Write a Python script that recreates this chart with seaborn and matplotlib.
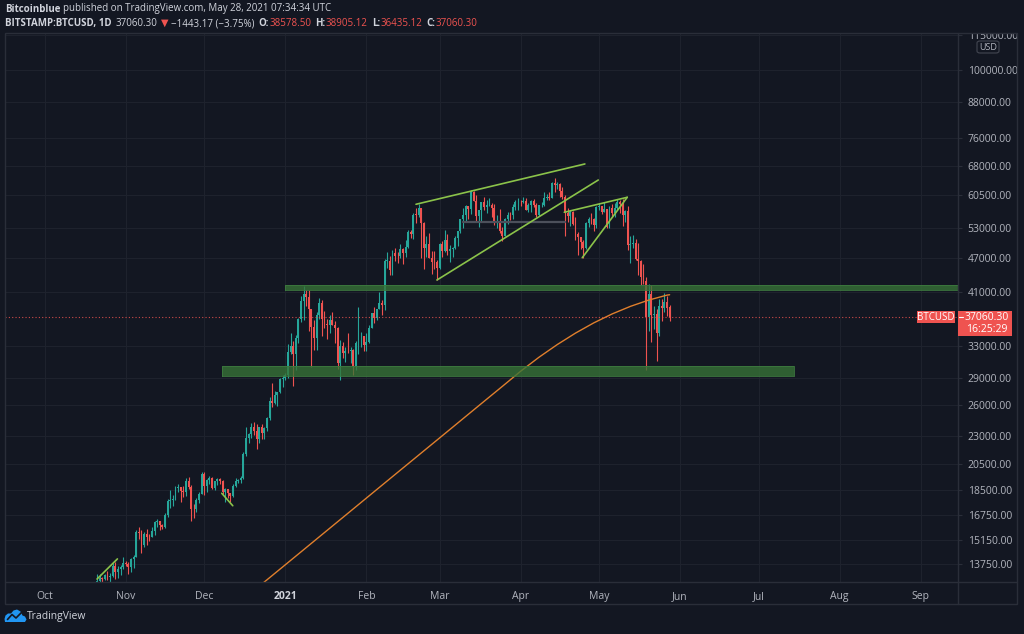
import numpy as np
import pandas as pd
import matplotlib
matplotlib.use("Agg")
import matplotlib.pyplot as plt
import matplotlib.dates as mdates
from matplotlib.patches import Rectangle, Polygon, FancyBboxPatch
from matplotlib.lines import Line2D
from matplotlib.ticker import NullLocator, NullFormatter
import seaborn as sns

# ---------------- data (daily BTCUSD candles) ----------------
start_date = "2020-10-21"

opens = [
    11920, 12810, 12990, 12940, 13130, 13040, 13070, 13650, 13280, 13460, 13560,
    13800, 13760, 13550, 14030, 14150, 15590, 15580, 14830, 15480, 15330, 15300, 15700, 16280, 16330, 16070,
    15960, 16730, 17660, 17800, 17820, 18680, 18690, 18420, 18370, 19160, 18740, 17150, 17140, 17730, 18180,
    19700, 18790, 19220, 19430, 18650, 19150, 19360, 19170, 18320, 18550, 18250, 18040, 18800, 19170, 19270,
    19440, 21370, 22800, 23130, 23860, 23480, 22740, 23820, 23250, 23730, 24700, 26490, 26280, 27080, 27380, 28880,
    28990, 29400, 32200, 33000, 31990, 34000, 36800, 39500, 40670, 40240, 38240, 35540, 34010, 37390, 39150,
    36830, 36070, 35820, 36630, 35950, 35510, 30850, 33000, 32100, 32290, 32270, 32510, 30430, 33400, 34300, 34300,
    33110, 33520, 35510, 37670, 36970, 38290, 39260, 38840, 46450, 46480, 44850, 48000, 47420, 47300,
    48690, 48000, 49150, 52140, 51640, 55890, 55870, 57420, 54100, 48890, 49680, 47060, 46300, 46150,
    45150, 49600, 48380, 50540, 48370, 48760, 48880, 50970, 52380, 54880, 55870, 57800, 57200, 61200, 59000,
    55650, 56900, 58900, 57650, 58030, 58100, 57370, 54090, 54340, 52300, 51310, 55030, 55820, 55780, 57630, 58730,
    58740, 58720, 58970, 57060, 58200, 59130, 58020, 55950, 58090, 58090, 59770, 60000, 59860, 63580, 62960,
    63230, 61400, 60030, 56200, 55720, 56470, 53800, 51700, 51190, 50090, 49000, 54020, 55040, 54840, 53560,
    57700, 57800, 56580, 57170, 53240, 57480, 56400, 57360, 58900, 58280, 55860, 56750, 49500, 49700,
    49900, 46760, 46450, 43540, 42900, 37000, 40700, 37300, 37540, 34700, 38800, 38400, 39300, 38578.50,
]
highs = [
    13220, 13200, 13030, 13170, 13340, 13250, 13780, 13850, 13630, 13680, 14100,
    13900, 13820, 14070, 14250, 15750, 15960, 15760, 15650, 15830, 15470, 15950, 16350, 16480, 16330, 16140,
    16890, 17860, 18480, 18140, 18800, 18960, 18700, 18770, 19400, 19480, 18900, 17460, 17900, 18350, 19860,
    19920, 19320, 19580, 19510, 19180, 19420, 19420, 19290, 18630, 18560, 18280, 18950, 19400, 19320, 19570,
    21560, 23800, 23280, 24170, 24300, 24100, 23830, 24120, 23790, 24780, 26870, 28400, 27500, 27400, 28990, 29300,
    29600, 33300, 34800, 33600, 34500, 36950, 40350, 41950, 41350, 41350, 38250, 36600, 37800, 40000, 39700,
    37900, 36800, 37300, 37800, 36400, 35600, 33800, 33500, 32900, 34800, 32900, 32600, 33700, 38600, 34900, 34350,
    34700, 35900, 37700, 38600, 38300, 40900, 39700, 46700, 48150, 47300, 48600, 48900, 48200, 49700,
    49000, 50600, 52600, 52600, 56300, 57500, 58350, 57500, 54200, 51400, 52000, 48400, 48400, 46600,
    49800, 50200, 52600, 51800, 49400, 49200, 51400, 52400, 54900, 57400, 58100, 58000, 61700, 61600, 60600,
    56900, 58900, 60000, 59400, 59800, 58500, 58400, 55800, 57200, 53200, 55100, 56600, 56500, 58400, 59300, 59800,
    59400, 60000, 59700, 58500, 59200, 59500, 58600, 58200, 58900, 61200, 60700, 61200, 63800, 64850, 63800,
    63500, 62500, 60400, 57500, 57000, 56800, 55500, 52100, 51200, 50600, 54400, 55500, 56400, 55200, 58000,
    58500, 57900, 58900, 57200, 57900, 58300, 58600, 59500, 59300, 59500, 56900, 58000, 51300, 51500,
    50700, 49800, 46600, 45800, 43500, 42400, 42200, 38800, 38300, 39900, 39800, 40800, 40400, 38905.12,
]
lows = [
    11900, 12700, 12730, 12890, 12900, 12800, 13050, 12940, 12990, 13140, 13440,
    13620, 13220, 13300, 13530, 14100, 15200, 14370, 14710, 14820, 15080, 15280, 15450, 15960, 15730, 15820,
    15870, 16560, 17220, 17350, 17760, 18370, 17600, 18000, 18020, 18600, 16330, 16500, 16900, 17550, 18180,
    18100, 18330, 18920, 18580, 18520, 18900, 18910, 18200, 17650, 17930, 17600, 18000, 18730, 19000, 19050,
    19300, 21230, 22350, 22770, 23080, 21820, 22350, 22700, 22700, 23440, 24500, 25850, 26110, 25880, 27340, 28000,
    28800, 28950, 32000, 28100, 29900, 33400, 36300, 36600, 38800, 35100, 30300, 32500, 32400, 36700, 34400,
    35400, 33900, 34800, 35950, 33400, 30100, 28800, 31400, 30900, 32100, 30800, 29300, 29900, 31900, 32900, 32300,
    32300, 33450, 35400, 36200, 36600, 38200, 37400, 38100, 45100, 43800, 43900, 46400, 46100, 47000,
    45800, 47100, 48900, 50900, 50800, 54000, 55500, 47000, 45000, 47100, 46900, 44100, 45000, 43000,
    45000, 47100, 48200, 47500, 46300, 47100, 48800, 49300, 51900, 53000, 54300, 55000, 56100, 59000, 54600,
    53300, 54200, 57000, 56300, 57900, 55500, 53700, 53000, 52000, 50400, 51300, 53900, 54700, 54900, 57000, 56900,
    57900, 58500, 56900, 56600, 56500, 57600, 55400, 55700, 57700, 57900, 59300, 59400, 59800, 61300, 62100,
    60000, 59600, 51300, 54200, 53400, 53700, 50500, 47600, 48800, 47000, 48800, 53300, 53900, 52400, 53000,
    57000, 56000, 56500, 53000, 52900, 55300, 55300, 56900, 56300, 53500, 54400, 48600, 46000, 48900,
    46600, 43900, 42100, 42300, 30000, 35000, 33500, 35300, 31100, 34400, 36400, 37800, 37200, 36435.12,
]
closes = [
    12810, 12990, 12940, 13130, 13040, 13070, 13650, 13280, 13460, 13560, 13800,
    13760, 13550, 14030, 14150, 15590, 15580, 14830, 15480, 15330, 15300, 15700, 16280, 16330, 16070, 15960,
    16730, 17660, 17800, 17820, 18680, 18690, 18420, 18370, 19160, 18740, 17150, 17140, 17730, 18180, 19700,
    18790, 19220, 19430, 18650, 19150, 19360, 19170, 18320, 18550, 18250, 18040, 18800, 19170, 19270, 19440,
    21370, 22800, 23130, 23860, 23480, 22740, 23820, 23250, 23730, 24700, 26490, 26280, 27080, 27380, 28880, 28990,
    29400, 32200, 33000, 31990, 34000, 36800, 39500, 40670, 40240, 38240, 35540, 34010, 37390, 39150, 36830,
    36070, 35820, 36630, 35950, 35510, 30850, 33000, 32100, 32290, 32270, 32510, 30430, 33400, 34300, 34300, 33110,
    33520, 35510, 37670, 36970, 38290, 39260, 38840, 46450, 46480, 44850, 48000, 47420, 47300, 48690,
    48000, 49150, 52140, 51640, 55890, 55870, 57420, 54100, 48890, 49680, 47060, 46300, 46150, 45150,
    49600, 48380, 50540, 48370, 48760, 48880, 50970, 52380, 54880, 55870, 57800, 57200, 61200, 59000, 55650,
    56900, 58900, 57650, 58030, 58100, 57370, 54090, 54340, 52300, 51310, 55030, 55820, 55780, 57630, 58730, 58740,
    58720, 58970, 57060, 58200, 59130, 58020, 55950, 58090, 58090, 59770, 60000, 59860, 63580, 62960, 63230,
    61400, 60030, 56200, 55720, 56470, 53800, 51700, 51190, 50090, 49000, 54020, 55040, 54840, 53560, 57700,
    57800, 56580, 57170, 53240, 57480, 56400, 57360, 58900, 58280, 55860, 56750, 49500, 49700, 49900,
    46760, 46450, 43540, 42900, 37000, 40700, 37300, 37540, 34700, 38800, 38400, 39300, 38500, 37060.30,
]

# 200-day moving average
ma_dates = ["2020-12-17", "2020-12-24", "2020-12-31", "2021-01-07", "2021-01-14", "2021-01-21",
            "2021-01-28", "2021-02-04", "2021-02-11", "2021-02-18", "2021-02-25", "2021-03-04",
            "2021-03-11", "2021-03-18", "2021-03-25", "2021-04-01", "2021-04-08", "2021-04-15",
            "2021-04-22", "2021-04-29", "2021-05-06", "2021-05-13", "2021-05-20", "2021-05-27", "2021-05-28"]
ma_values = [12050, 12780, 13575, 14420, 15320, 16275, 17290, 18370, 19515, 20730, 22020, 23390,
             24850, 26400, 28040, 29800, 31520, 33170, 34740, 36200, 37520, 38680, 39670, 40470, 40530]

# support / resistance zones: (start, end, low, high); end None = to right edge
zones = [("2020-12-31 21:00", None, 41350, 42200),
         ("2020-12-07 22:00", "2021-07-14 14:00", 29250, 30450)]

# drawn trend lines: (date1, price1, date2, price2)
trend_lines = [
    ("2021-02-20", 58300, "2021-04-25 14:00", 68550),
    ("2021-02-28", 43000, "2021-04-30 17:00", 64270),
    ("2021-04-17 17:00", 56450, "2021-05-11 19:00", 59960),
    ("2021-04-24 14:00", 47030, "2021-05-11 19:00", 59960),
    ("2020-10-21", 12930, "2020-10-28 19:00", 14020),
    ("2020-12-07 17:00", 18250, "2020-12-11 22:00", 17360),
]
grey_line = ("2021-03-10", "2021-04-18", 54300)

last_price = 37060.30
y_ticks = [13750, 15150, 16750, 18500, 20500, 23000, 26000, 29000, 33000, 41000,
           47000, 53000, 60500, 68000, 76000, 88000, 100000, 115000]
month_ticks = ["2020-10-01", "2020-11-01", "2020-12-01", "2021-01-01", "2021-02-01", "2021-03-01",
               "2021-04-01", "2021-05-01", "2021-06-01", "2021-07-01", "2021-08-01", "2021-09-01"]
month_labels = ["Oct", "Nov", "Dec", "2021", "Feb", "Mar", "Apr", "May", "Jun", "Jul", "Aug", "Sep"]

# ---------------- style ----------------
sns.set_theme(style="dark")
plt.rcParams['font.family'] = ['Open Sans', 'DejaVu Sans']

BG = '#131722'
GRID = '#1e222d'
FRAME = '#2a2e39'
TXT = '#b2b5be'
HDR = '#d1d4dc'
UP = '#26a69a'
DN = '#ef5350'

W, H = 1024, 634
fig = plt.figure(figsize=(W / 100, H / 100), dpi=100, facecolor=BG)


def fx(x):
    return x / W


def fy(y):
    return 1 - y / H


ax = fig.add_axes([fx(5), fy(582), fx(958) - fx(5), fy(33) - fy(582)])
ax.set_facecolor(BG)
for s in ax.spines.values():
    s.set_visible(False)

def dnum(s):
    return mdates.date2num(pd.Timestamp(s).to_pydatetime())

dates = pd.date_range(start_date, periods=len(closes), freq='D')
x = mdates.date2num(dates.to_pydatetime())
o = np.array(opens, float)
h = np.array(highs, float)
l = np.array(lows, float)
c = np.array(closes, float)
cols = np.where(c >= o, UP, DN)

ax.set_yscale('log')
t0 = dnum("2020-10-01")
ax.set_xlim(t0 - 15.2, t0 + 349.3)
ax.set_ylim(10 ** (5 - 512 / 573), 10 ** (5 + 37 / 573))

# candles
ax.vlines(x, l, h, colors=cols, lw=0.8, zorder=3)
bottoms = np.minimum(o, c)
heights = np.maximum(np.abs(c - o), bottoms * 0.0015)
ax.bar(x, heights, bottom=bottoms, width=0.74, color=cols, linewidth=0, zorder=4)

# moving average
ma_x = [dnum(d) for d in ma_dates]
sns.lineplot(x=ma_x, y=ma_values, ax=ax, color='#e07f2c', lw=1.0, estimator=None,
             sort=False, legend=False, zorder=5)

# zones
xr = ax.get_xlim()[1]
for s0, s1, lo, hi in zones:
    a = dnum(s0)
    b = xr if s1 is None else dnum(s1)
    ax.fill_between([a, b], [lo, lo], [hi, hi], color='#377437', alpha=0.78, lw=0, zorder=6)
    ax.plot([a, b, b, a, a], [lo, lo, hi, hi, lo], color='#3d7a3f', lw=0.6, zorder=6)

# trend lines
for d1, p1, d2, p2 in trend_lines:
    ax.plot([dnum(d1), dnum(d2)], [p1, p2], color='#8bc34a', lw=1.2, zorder=7,
            solid_capstyle='round')
ax.plot([dnum(grey_line[0]), dnum(grey_line[1])], [grey_line[2]] * 2, color='#4c505b',
        lw=1.6, zorder=5)

# last price dotted line
ax.axhline(last_price, color=DN, ls=(0, (1, 2)), lw=0.8, alpha=0.85, zorder=8)

# axes ticks
ax.yaxis.tick_right()
ax.set_yticks(y_ticks)
ax.set_yticklabels([f"{v:.2f}" for v in y_ticks])
ax.yaxis.set_minor_locator(NullLocator())
ax.yaxis.set_minor_formatter(NullFormatter())
ax.tick_params(axis='y', which='major', length=3, color=FRAME, width=0.8, pad=4,
               labelsize=7.5, labelcolor=TXT, right=True, left=False)
ax.set_xticks([dnum(m) for m in month_ticks])
ax.set_xticklabels(month_labels)
ax.tick_params(axis='x', length=0, pad=6.5, labelsize=7.5, labelcolor=TXT)
for lab in ax.get_xticklabels():
    if lab.get_text() == "2021":
        lab.set_fontweight('bold')
        lab.set_color(HDR)
ax.grid(True, color=GRID, lw=0.8)
ax.set_axisbelow(True)
ax.set_xlabel('')
ax.set_ylabel('')

# ---------------- figure-level decorations ----------------
def frect(x0, y0, x1, y1, **kw):
    r = Rectangle((fx(x0), fy(y1)), fx(x1) - fx(x0), fy(y0) - fy(y1), transform=fig.transFigure, **kw)
    fig.patches.append(r)
    return r

def fline(xs, ys, **kw):
    ln = Line2D([fx(v) for v in xs], [fy(v) for v in ys], transform=fig.transFigure, **kw)
    fig.lines.append(ln)

# cover for the clipped top label
frect(955, 24, 1020, 33, facecolor=BG, edgecolor='none', zorder=10)
# frame
frect(5, 33, 1017, 604, facecolor='none', edgecolor=FRAME, lw=1.0, zorder=11)
fline([5, 1017], [582, 582], color=FRAME, lw=1.0, zorder=11)
fline([958, 958], [33, 604], color=FRAME, lw=1.0, zorder=11)

# USD box
usd = FancyBboxPatch((fx(977), fy(53)), fx(22), 12 / H, boxstyle="round,pad=0,rounding_size=0.003",
                     transform=fig.transFigure, facecolor=BG, edgecolor='#434651', lw=0.8, zorder=12)
fig.patches.append(usd)
fig.text(fx(988), fy(47), "USD", color=TXT, fontsize=6.5, ha='center', va='center', zorder=13)

# price labels
frect(917, 311, 955, 323, facecolor=DN, edgecolor='none', zorder=12)
fig.text(fx(936), fy(317), "BTCUSD", color='white', fontsize=7, ha='center', va='center', zorder=13)
frect(958, 311, 1012, 336, facecolor=DN, edgecolor='none', zorder=12)
fline([959, 963], [317, 317], color='white', lw=0.8, zorder=13)
fig.text(fx(987), fy(317.5), f"{last_price:.2f}", color='white', fontsize=7.5, ha='center', va='center', zorder=13)
fig.text(fx(987), fy(330), "16:25:29", color='white', fontsize=7.5, ha='center', va='center', zorder=13)

# header text
renderer = fig.canvas.get_renderer()

def seq(x0, y0, pieces, size=7):
    xx = x0
    for txt, color, weight, gap in pieces:
        t = fig.text(fx(xx), fy(y0), txt, color=color, fontweight=weight, fontsize=size,
                     ha='left', va='center', zorder=13)
        bb = t.get_window_extent(renderer)
        xx += bb.width + gap

seq(5, 9, [("Bitcoinblue", HDR, 'bold', 2.5),
           ("published on TradingView.com, May 28, 2021 07:34:34 UTC", HDR, 'normal', 0)])
seq(5, 23.5, [("BITSTAMP:BTCUSD, 1D", HDR, 'bold', 4),
              ("37060.30", HDR, 'normal', 3),
              ("▼", DN, 'normal', 3),
              ("−1443.17 (−3.75%)", HDR, 'normal', 4),
              ("O:", HDR, 'bold', 0.5), ("38578.50", DN, 'normal', 4),
              ("H:", HDR, 'bold', 0.5), ("38905.12", DN, 'normal', 4),
              ("L:", HDR, 'bold', 0.5), ("36435.12", DN, 'normal', 4),
              ("C:", HDR, 'bold', 0.5), ("37060.30", DN, 'normal', 0)])

# TradingView logo
cloud = [(5, 622), (25, 622), (26.5, 619.5), (25, 616.5), (22.5, 615.5), (20.5, 611.5),
         (17, 609.5), (13.5, 610.5), (11, 613.5), (8, 613.5), (5.5, 615.5), (4.5, 619)]
fig.patches.append(Polygon([(fx(a), fy(b)) for a, b in cloud], closed=True,
                           transform=fig.transFigure, facecolor='#2196f3', edgecolor='none', zorder=12))
fline([7.5, 12, 16, 21.5], [619.5, 614.5, 618, 612.5], color=BG, lw=1.2, zorder=13)
fig.text(fx(27), fy(616), "TradingView", color=HDR, fontsize=7.5, ha='left', va='center', zorder=13)

fig.savefig("out.png", dpi=100, facecolor=BG)
